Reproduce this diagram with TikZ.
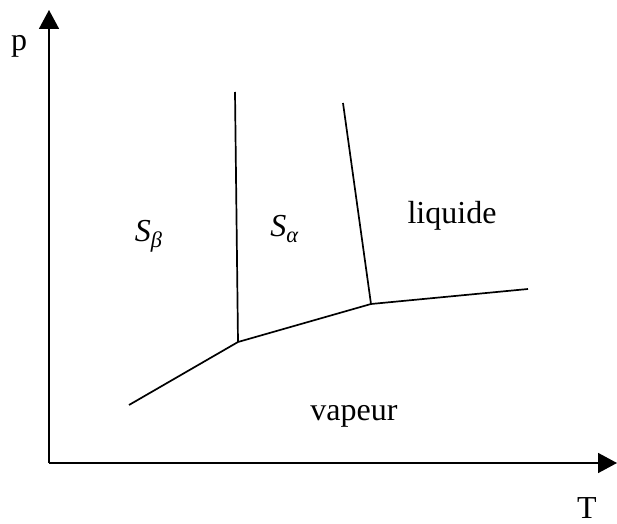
\documentclass[tikz,border=0pt]{standalone}
\usepackage{fontspec}
\setmainfont{Liberation Serif}
\usetikzlibrary{arrows.meta}

\begin{document}
\begin{tikzpicture}[x=0.5pt,y=-0.5pt,>={Triangle[length=9.5pt,width=10pt]},
 phase/.style={line width=0.85pt},
 lbl/.style={anchor=base,inner sep=0pt,font=\fontsize{16}{19}\selectfont}]
 \useasboundingbox (0,0) rectangle (617,524);
 % axes
 \coordinate (O) at (49,463);
 \coordinate (ptop) at (49,10);
 \coordinate (Tend) at (617,463);
 \draw[line width=0.85pt,->] (O)--(ptop);
 \draw[line width=0.85pt,->] (O)--(Tend);
 \node[lbl] (plbl) at (19,51) {p};
 \node[lbl] (Tlbl) at (587,518) {T};
 % phase boundaries
 \coordinate (sub) at (129,405);
 \coordinate (tp1) at (238,342);
 \coordinate (tp2) at (371,304);
 \coordinate (vap) at (528,289);
 \coordinate (ba) at (235,92);
 \coordinate (al) at (343,103);
 \draw[phase] (sub)--(tp1)--(tp2)--(vap);
 \draw[phase] (ba)--(tp1);
 \draw[phase] (al)--(tp2);
 \node[lbl] (Sbeta) at (149,242) {\textit{S}\textsubscript{\textit{β}}};
 \node[lbl] (Salpha) at (285,237) {\textit{S}\textsubscript{\textit{α}}};
 \node[lbl] (liq) at (452,224) {liquide};
 \node[lbl] (vapeur) at (354,421) {vapeur};
\end{tikzpicture}
\end{document}
